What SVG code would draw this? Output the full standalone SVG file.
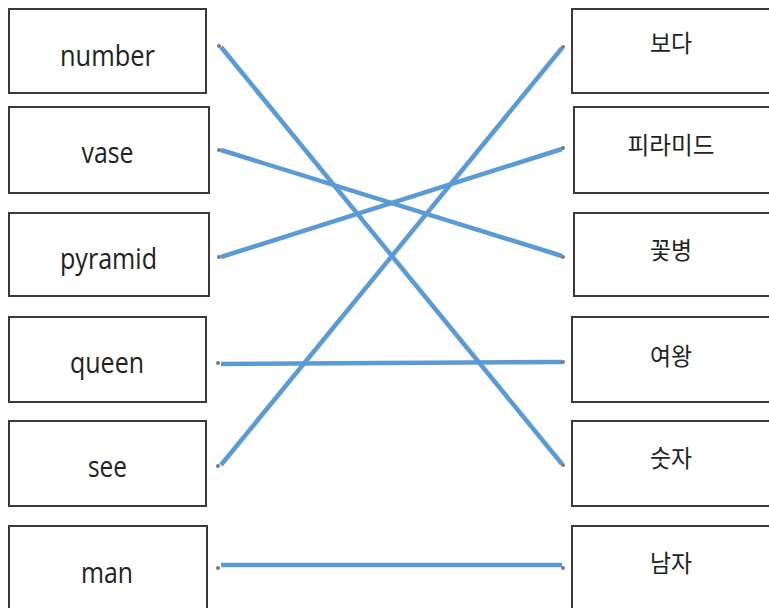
<svg xmlns="http://www.w3.org/2000/svg" width="769" height="608" viewBox="0 0 769 608">
<style>
.box{fill:#fff;stroke:#3a3a3a;stroke-width:2}
.en{font-family:"Open Sans","Liberation Sans",sans-serif;font-size:29px;fill:#222;text-anchor:middle}
.ko{font-family:"Noto Sans CJK KR","Noto Sans",sans-serif;font-size:24px;fill:#222;text-anchor:middle}
.ln{stroke:#5B9BD5;stroke-width:4.5;stroke-linecap:butt;fill:none}
.dot{fill:#7a7a7a}
</style>
<rect width="769" height="608" fill="#fff"/>
<g id="left-number"><rect class="box" x="9" y="9" width="197" height="84"/><text class="en" x="107.5" y="66" textLength="95" lengthAdjust="spacingAndGlyphs">number</text></g>
<g id="left-vase"><rect class="box" x="9" y="107" width="200" height="86"/><text class="en" x="107.5" y="163" textLength="52" lengthAdjust="spacingAndGlyphs">vase</text></g>
<g id="left-pyramid"><rect class="box" x="9" y="213" width="200" height="83"/><text class="en" x="108.5" y="269" textLength="97" lengthAdjust="spacingAndGlyphs">pyramid</text></g>
<g id="left-queen"><rect class="box" x="9" y="317" width="197" height="85"/><text class="en" x="107" y="373" textLength="74" lengthAdjust="spacingAndGlyphs">queen</text></g>
<g id="left-see"><rect class="box" x="9" y="421" width="197" height="85"/><text class="en" x="107.5" y="477" textLength="39" lengthAdjust="spacingAndGlyphs">see</text></g>
<g id="left-man"><rect class="box" x="9" y="526" width="198" height="90"/><text class="en" x="107" y="583" textLength="52" lengthAdjust="spacingAndGlyphs">man</text></g>
<g id="right-boda"><rect class="box" x="572" y="9" width="200" height="84"/><text class="ko" x="671" y="52" textLength="42" lengthAdjust="spacingAndGlyphs">보다</text></g>
<g id="right-piramideu"><rect class="box" x="574" y="107" width="198" height="86"/><text class="ko" x="671" y="154" textLength="87" lengthAdjust="spacingAndGlyphs">피라미드</text></g>
<g id="right-kkotbyeong"><rect class="box" x="574" y="213" width="198" height="83"/><text class="ko" x="671" y="259" textLength="42" lengthAdjust="spacingAndGlyphs">꽃병</text></g>
<g id="right-yeowang"><rect class="box" x="572" y="317" width="200" height="85"/><text class="ko" x="671" y="365" textLength="42" lengthAdjust="spacingAndGlyphs">여왕</text></g>
<g id="right-sutja"><rect class="box" x="572" y="421" width="200" height="85"/><text class="ko" x="671" y="467" textLength="42" lengthAdjust="spacingAndGlyphs">숫자</text></g>
<g id="right-namja"><rect class="box" x="572" y="526" width="200" height="90"/><text class="ko" x="671" y="572" textLength="42" lengthAdjust="spacingAndGlyphs">남자</text></g>
<g id="connectors">
<line class="ln" x1="221" y1="47" x2="562" y2="464"/>
<line class="ln" x1="221" y1="150" x2="562" y2="256"/>
<line class="ln" x1="221" y1="257" x2="562" y2="149"/>
<line class="ln" x1="221" y1="364" x2="562" y2="362"/>
<line class="ln" x1="221" y1="465" x2="562" y2="48"/>
<line class="ln" x1="221" y1="565" x2="562" y2="565"/>
<circle class="dot" cx="219" cy="46" r="2"/><circle class="dot" cx="563" cy="465" r="2"/>
<circle class="dot" cx="219" cy="150" r="2"/><circle class="dot" cx="563" cy="257" r="2"/>
<circle class="dot" cx="219" cy="257" r="2"/><circle class="dot" cx="563" cy="148" r="2"/>
<circle class="dot" cx="218" cy="363" r="2"/><circle class="dot" cx="563" cy="362" r="2"/>
<circle class="dot" cx="218" cy="466" r="2"/><circle class="dot" cx="563" cy="47" r="2"/>
<circle class="dot" cx="218" cy="568" r="2"/><circle class="dot" cx="563" cy="568" r="2"/>
</g>
</svg>
